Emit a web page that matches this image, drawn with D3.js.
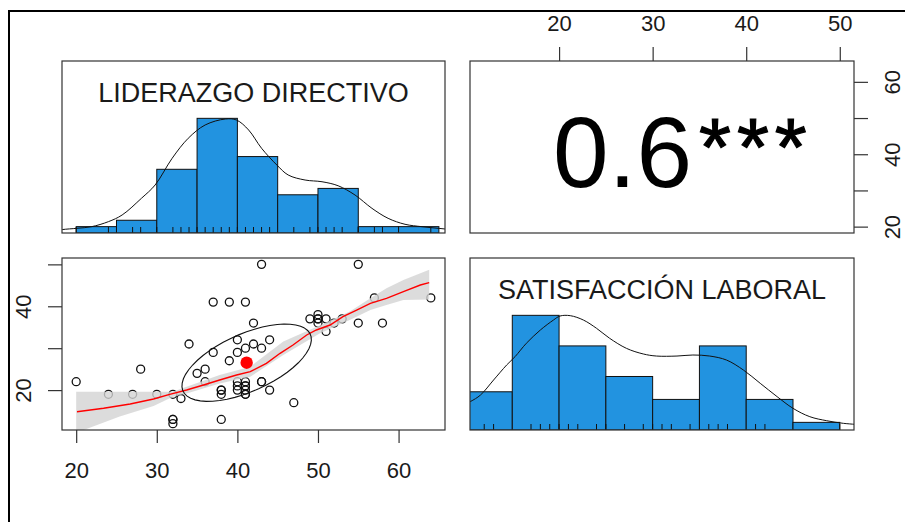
<!DOCTYPE html>
<html>
<head>
<meta charset="utf-8">
<script src="https://cdn.jsdelivr.net/npm/d3@7"></script>
<style>
  body { margin: 0; background: #fff; }
  svg { display: block; font-family: "Liberation Sans", Arial, sans-serif; }
  .box { fill: none; stroke: #333; stroke-width: 1.2; }
  .axis path { display: none; }
  .axis line { stroke: #333; stroke-width: 1.2; }
  .axis text { font-size: 22px; fill: #1a1a1a; font-family: "Liberation Sans", Arial, sans-serif; }
  .bar { fill: #2293e0; stroke: #111; stroke-width: 1; }
  .rug { stroke: #111; stroke-width: 1; }
  .dens { fill: none; stroke: #111; stroke-width: 1; }
  .title { font-size: 27px; fill: #1a1a1a; text-anchor: middle; }
</style>
</head>
<body>
<div class="pairs"></div>
<script>
// data
const varNames = ['LIDERAZGO DIRECTIVO', 'SATISFACCIÓN LABORAL'];

const liderazgo = [20, 24, 27, 28, 30, 32, 32, 32, 32, 33, 34, 35, 36, 36, 37, 37, 38, 38, 38, 38,
    39, 39, 40, 40, 40, 40, 40, 41, 41, 41, 41, 41, 41, 41, 42, 42, 43, 43, 43, 43, 44, 44,
    47, 49, 50, 50, 50, 50, 51, 51, 52, 53, 55, 55, 57, 58, 64, 41];
const satisfaccion = [22, 19, 19, 25, 19, 19, 12, 13, 13, 18, 31, 24, 25, 22, 41, 29, 20, 19, 13, 20,
    41, 27, 32, 29, 22, 20, 21, 41, 30, 21, 20, 19, 22, 19, 36, 31, 50, 30, 22, 22, 32, 20,
    17, 37, 38, 37, 36, 37, 37, 34, 36, 37, 50, 36, 42, 36, 42, 21];

const lidBreaks = [20, 25, 30, 35, 40, 45, 50, 55, 60, 65];
const lidCounts = [1, 2, 10, 18, 12, 6, 7, 1, 1];
const satBreaks = [10, 15, 20, 25, 30, 35, 40, 45, 50];
const satCounts = [5, 15, 11, 7, 4, 11, 4, 1];

// density curves, scaled to max 1
const lidDensX = [17.5, 18.3, 20.1, 21.9, 24.0, 25.7, 28.1, 29.8, 31.9, 33.9, 36.0, 38.5, 39.9, 41.4, 43.0,
    44.9, 46.3, 48.4, 50.5, 52.5, 54.6, 56.7, 58.7, 60.8, 62.9, 64.9, 66.5];
const lidDensY = [0.02, 0.03, 0.041, 0.055, 0.099, 0.157, 0.303, 0.419, 0.651, 0.826, 0.942, 0.994, 0.985, 0.898,
    0.739, 0.593, 0.506, 0.462, 0.447, 0.412, 0.331, 0.215, 0.128, 0.076, 0.055, 0.041, 0.03];
const satDensX = [9.0, 10.5, 11.6, 13.0, 14.4, 15.3, 16.5, 18.0, 19.4, 20.1, 21.2, 22.6, 24.0, 25.4, 27.2,
    29.0, 30.4, 32.6, 34.3, 36.1, 37.9, 39.7, 41.5, 43.3, 45.0, 46.8, 48.6, 50.4, 52.5];
const satDensY = [0.19, 0.247, 0.305, 0.436, 0.567, 0.64, 0.756, 0.872, 0.959, 0.994, 0.997, 0.959, 0.887, 0.8,
    0.712, 0.663, 0.645, 0.645, 0.654, 0.645, 0.61, 0.523, 0.407, 0.291, 0.189, 0.116, 0.081, 0.058, 0.045];

// smoother and its confidence band
const smoothX = [20.1, 23.4, 26.7, 29.6, 31.6, 33.7, 35.8, 37.8, 39.9, 41.6, 43.6, 45.3, 46.9, 48.6, 49.8,
    51.5, 53.1, 54.8, 56.5, 58.5, 60.6, 62.7, 63.8];
const smoothY = [14.85, 15.66, 16.68, 17.88, 18.99, 20.02, 21.22, 22.41, 23.6, 24.39, 26.39, 28.78, 30.76, 33.15,
    34.34, 35.53, 37.52, 39.11, 40.71, 41.9, 43.48, 45.08, 45.63];
const bandX = [20.0, 25.4, 29.6, 32.0, 33.7, 37.8, 41.6, 45.7, 50.2, 54.0, 56.5, 58.5, 60.6, 63.8];
const bandLo = [9.8, 13.7, 16.2, 18.4, 19.2, 21.6, 23.2, 28.4, 33.5, 36.8, 39.1, 40.3, 41.5, 41.6];
const bandHi = [19.6, 19.6, 19.6, 19.6, 20.8, 23.6, 25.6, 31.6, 35.4, 38.8, 41.9, 44.3, 46.3, 48.7];

// correlation ellipse (means, sds, r)
const meanLid = 41.15, meanSat = 26.54, sdLid = 8.03, sdSat = 9.23, corR = 0.6;
const corValue = '0.6';
const corStars = '***';

const lidTicks = [20, 30, 40, 50, 60];
const lidTickLabels = ['20', '30', '40', '50', '60'];
const lidRightLabels = ['20', '', '40', '', '60'];
const satTicks = [20, 30, 40, 50];
const satTopLabels = ['20', '30', '40', '50'];
const satLeftLabels = ['20', '', '40', ''];

const width = 905, height = 522;
const colL = [62, 445], colR = [470, 854];
const rowT = [61, 233], rowB = [258, 430];

const padDomain = (v) => {
    const [a, b] = d3.extent(v);
    const p = (b - a) * 0.04;
    return [a - p, b + p];
};

const svg = d3.select('.pairs')
    .append('svg')
    .attr('width', width)
    .attr('height', height);

svg.append('rect').attr('width', width).attr('height', height).attr('fill', '#fff');

// screenshot frame
svg.append('line').attr('x1', 8).attr('x2', width).attr('y1', 11).attr('y2', 11)
    .attr('stroke', '#000').attr('stroke-width', 2);
svg.append('line').attr('x1', 9).attr('x2', 9).attr('y1', 10).attr('y2', height)
    .attr('stroke', '#000').attr('stroke-width', 2);

const xLid = d3.scaleLinear().domain(padDomain(liderazgo)).range(colL);
const ySat = d3.scaleLinear().domain(padDomain(satisfaccion)).range([rowB[1], rowB[0]]);
const xSat = d3.scaleLinear().domain(padDomain(satisfaccion)).range(colR);
const yLid = d3.scaleLinear().domain(padDomain(liderazgo)).range([rowT[1], rowT[0]]);

const defs = svg.append('defs');
const addClip = (id, xr, yr) => {
    defs.append('clipPath').attr('id', id)
        .append('rect')
        .attr('x', xr[0]).attr('y', yr[0])
        .attr('width', xr[1] - xr[0]).attr('height', yr[1] - yr[0]);
};
addClip('c11', colL, rowT);
addClip('c22', colR, rowB);
addClip('c21', colL, rowB);

// histogram panel
const histPanel = (clipId, xScale, rows, breaks, counts, values, densX, densY, title) => {
    const yH = d3.scaleLinear().domain([0, 1.5]).range([rows[1], rows[0]]);
    const maxC = d3.max(counts);
    const g = svg.append('g').attr('clip-path', `url(#${clipId})`);

    g.selectAll('.bar')
        .data(counts)
        .enter()
        .append('rect')
        .attr('class', 'bar')
        .attr('x', (d, i) => xScale(breaks[i]))
        .attr('width', (d, i) => xScale(breaks[i + 1]) - xScale(breaks[i]))
        .attr('y', (d) => yH(d / maxC))
        .attr('height', (d) => yH(0) - yH(d / maxC));

    g.selectAll('.rug')
        .data(Array.from(new Set(values)))
        .enter()
        .append('line')
        .attr('class', 'rug')
        .attr('x1', (d) => xScale(d)).attr('x2', (d) => xScale(d))
        .attr('y1', yH(0)).attr('y2', yH(0) - 6);

    const dens = d3.line()
        .x((d) => xScale(d[0]))
        .y((d) => yH(d[1]))
        .curve(d3.curveCatmullRom);
    g.append('path')
        .datum(densX.map((x, i) => [x, densY[i]]))
        .attr('class', 'dens')
        .attr('d', dens);

    svg.append('text')
        .attr('class', 'title')
        .attr('x', (xScale.range()[0] + xScale.range()[1]) / 2)
        .attr('y', rows[0] + 40.5)
        .text(title);
};

histPanel('c11', xLid, rowT, lidBreaks, lidCounts, liderazgo, lidDensX, lidDensY, varNames[0]);
histPanel('c22', xSat, rowB, satBreaks, satCounts, satisfaccion, satDensX, satDensY, varNames[1]);

// correlation panel
const cor = svg.append('text')
    .attr('x', 553)
    .attr('y', 187)
    .attr('font-size', 100)
    .attr('fill', '#000');
cor.append('tspan').text(corValue);
cor.append('tspan')
    .attr('font-size', 82)
    .attr('dx', 7)
    .attr('dy', -12)
    .attr('letter-spacing', 6)
    .attr('stroke', '#000')
    .attr('stroke-width', 1.2)
    .text(corStars);

// scatter panel
const sc = svg.append('g').attr('clip-path', 'url(#c21)');

sc.selectAll('.dot')
    .data(liderazgo)
    .enter()
    .append('circle')
    .attr('class', 'dot')
    .attr('cx', (d) => xLid(d))
    .attr('cy', (d, i) => ySat(satisfaccion[i]))
    .attr('r', 4)
    .attr('fill', 'none')
    .attr('stroke', '#111')
    .attr('stroke-width', 1.3);

const band = d3.area()
    .x((d) => xLid(d[0]))
    .y0((d) => ySat(d[1]))
    .y1((d) => ySat(d[2]));
sc.append('path')
    .datum(bandX.map((x, i) => [x, bandLo[i], bandHi[i]]))
    .attr('d', band)
    .attr('fill', '#d3d3d3')
    .attr('opacity', 0.8);

const smooth = d3.line()
    .x((d) => xLid(d[0]))
    .y((d) => ySat(d[1]));
sc.append('path')
    .datum(smoothX.map((x, i) => [x, smoothY[i]]))
    .attr('d', smooth)
    .attr('fill', 'none')
    .attr('stroke', '#ff0000')
    .attr('stroke-width', 1.4);

// ellipse as drawn by psych::draw.ellipse
const th = 1 / Math.sqrt(2);
const a1 = Math.sqrt(1 + corR), a2 = Math.sqrt(1 - corR);
const ell = d3.range(52).map((k) => {
    const ang = k * 2 * Math.PI / 51;
    const c = Math.cos(ang), s = Math.sin(ang);
    return [meanLid + sdLid * th * (c * a1 - s * a2), meanSat + sdSat * th * (c * a1 + s * a2)];
});
sc.append('path')
    .datum(ell)
    .attr('d', smooth)
    .attr('fill', 'none')
    .attr('stroke', '#111')
    .attr('stroke-width', 1.1);

sc.append('circle')
    .attr('cx', xLid(meanLid))
    .attr('cy', ySat(meanSat))
    .attr('r', 6.2)
    .attr('fill', '#ff0000');

// panel boxes
[[colL, rowT], [colR, rowT], [colL, rowB], [colR, rowB]].forEach(([xr, yr]) => {
    svg.append('rect')
        .attr('class', 'box')
        .attr('x', xr[0]).attr('y', yr[0])
        .attr('width', xr[1] - xr[0]).attr('height', yr[1] - yr[0]);
});

// axes
const bottomAxis = svg.append('g')
    .attr('class', 'axis')
    .attr('transform', `translate(0,${rowB[1]})`)
    .call(d3.axisBottom(xLid).tickValues(lidTicks).tickSize(13).tickFormat((d, i) => lidTickLabels[i]));
bottomAxis.selectAll('text').attr('y', 48).attr('dy', 0);

const topAxis = svg.append('g')
    .attr('class', 'axis')
    .attr('transform', `translate(0,${rowT[0]})`)
    .call(d3.axisTop(xSat).tickValues(satTicks).tickSize(14).tickFormat((d, i) => satTopLabels[i]));
topAxis.selectAll('text').attr('y', -30).attr('dy', 0);

const leftAxis = svg.append('g')
    .attr('class', 'axis')
    .attr('transform', `translate(${colL[0]},0)`)
    .call(d3.axisLeft(ySat).tickValues(satTicks).tickSize(14).tickFormat((d, i) => satLeftLabels[i]));
leftAxis.selectAll('text')
    .attr('x', null).attr('dy', 0)
    .attr('text-anchor', 'middle')
    .attr('transform', 'translate(-31,0) rotate(-90)');

const rightAxis = svg.append('g')
    .attr('class', 'axis')
    .attr('transform', `translate(${colR[1]},0)`)
    .call(d3.axisRight(yLid).tickValues(lidTicks).tickSize(14).tickFormat((d, i) => lidRightLabels[i]));
rightAxis.selectAll('text')
    .attr('x', null).attr('dy', 0)
    .attr('text-anchor', 'middle')
    .attr('transform', 'translate(46,0) rotate(-90)');
</script>
</body>
</html>
